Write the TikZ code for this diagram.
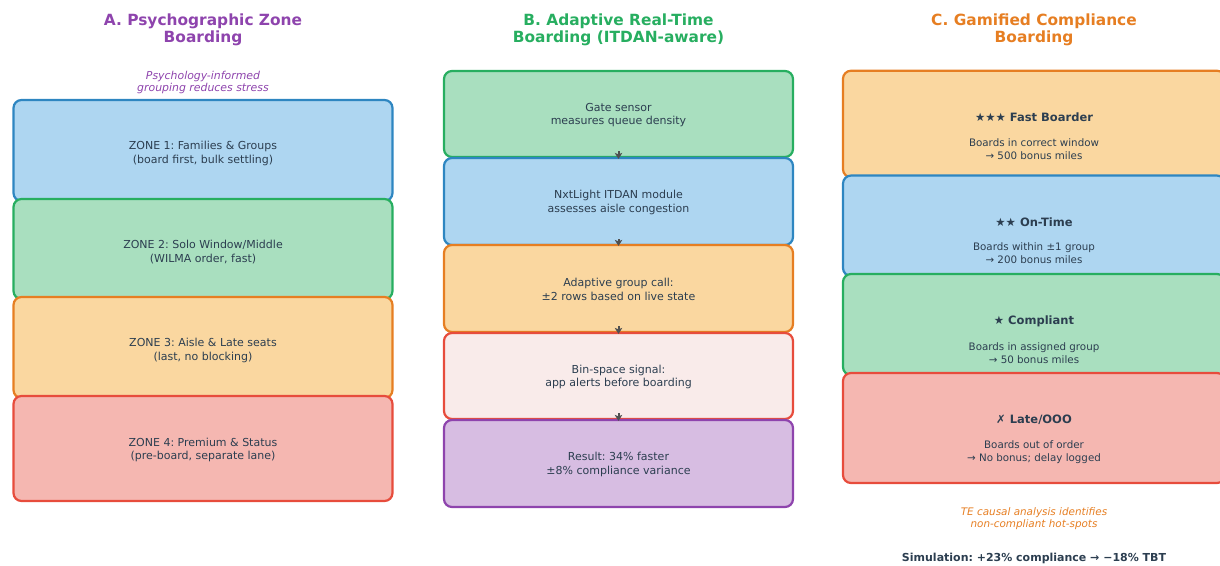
\documentclass[tikz,border=0pt]{standalone}
\usepackage{fontspec}
\setmainfont{DejaVu Sans}
\newfontfamily\symfont{DejaVu Sans}
\usetikzlibrary{arrows.meta}
\frenchspacing

\definecolor{blueE}{HTML}{2E86C1}
\definecolor{blueF}{HTML}{AED6F1}
\definecolor{greenE}{HTML}{27AE60}
\definecolor{greenF}{HTML}{A9DFBF}
\definecolor{orangeE}{HTML}{E67E22}
\definecolor{orangeF}{HTML}{FAD7A0}
\definecolor{redE}{HTML}{E74C3C}
\definecolor{redF}{HTML}{F5B7B1}
\definecolor{purpleE}{HTML}{8E44AD}
\definecolor{purpleF}{HTML}{D7BDE2}
\definecolor{pinkF}{HTML}{F9EBEA}
\definecolor{ink}{HTML}{2C3E50}
\definecolor{flowgray}{HTML}{505050}

\tikzset{
  panel/.style={rounded corners=8pt, line width=2.2pt, inner sep=0pt},
  colA/.style={panel, minimum width=379pt},
  colB/.style={panel, minimum width=349pt},
  colC/.style={panel, minimum width=382pt},
  paneltext/.style={align=center, text=ink, inner sep=0pt,
    font=\fontsize{11}{13.6}\selectfont},
  coltitle/.style={align=center, font=\fontsize{15.4}{17.6}\selectfont\bfseries},
  note/.style={align=center, font=\fontsize{10.4}{11.8}\selectfont\itshape},
  tierhead/.style={text=ink, font=\fontsize{11.5}{13}\selectfont\bfseries},
  tierbody/.style={align=center, text=ink, font=\fontsize{10.3}{13}\selectfont},
  flow/.style={draw=flowgray, line width=2pt, -{Stealth[length=6pt,width=7.5pt,inset=1.5pt]}}
}

\begin{document}
\begin{tikzpicture}[x=1pt,y=-1pt]
\useasboundingbox (0,0) rectangle (1220,565);

% ---------- A: psychographic zones ----------
\node[coltitle, text=purpleE] (ta) at (203,30) {A. Psychographic Zone\\Boarding};
\node[note, text=purpleE, font=\fontsize{10.9}{11.8}\selectfont\itshape] (na) at (203,82.5)
  {Psychology-informed\\grouping reduces stress};
\node[colA, fill=blueF, draw=blueE, minimum height=101pt] (a1) at (203,150.5) {};
\node[colA, fill=greenF, draw=greenE, minimum height=100pt] (a2) at (203,249) {};
\node[colA, fill=orangeF, draw=orangeE, minimum height=101pt] (a3) at (203,347.5) {};
\node[colA, fill=redF, draw=redE, minimum height=105pt] (a4) at (203,448.5) {};
\node[paneltext] (a1t) at ([yshift=-3pt]a1.center) {ZONE 1: Families \& Groups\\(board first, bulk settling)};
\node[paneltext] (a2t) at ([yshift=-3pt]a2.center) {ZONE 2: Solo Window/Middle\\(WILMA order, fast)};
\node[paneltext] (a3t) at ([yshift=-3pt]a3.center) {ZONE 3: Aisle \& Late seats\\(last, no blocking)};
\node[paneltext] (a4t) at ([yshift=-1.5pt]a4.center) {ZONE 4: Premium \& Status\\(pre-board, separate lane)};

% ---------- B: adaptive real-time pipeline ----------
\node[coltitle, text=greenE] (tb) at (618.5,30) {B. Adaptive Real-Time\\Boarding (ITDAN-aware)};
\node[colB, fill=greenF, draw=greenE, minimum height=86pt] (b1) at (618.5,114) {};
\node[colB, fill=blueF, draw=blueE, minimum height=87pt] (b2) at (618.5,201.5) {};
\node[colB, fill=orangeF, draw=orangeE, minimum height=87pt] (b3) at (618.5,288.5) {};
\node[colB, fill=pinkF, draw=redE, minimum height=86pt] (b4) at (618.5,376) {};
\node[colB, fill=purpleF, draw=purpleE, minimum height=87pt] (b5) at (618.5,463.5) {};
\node[paneltext] (b1t) at ([yshift=-1pt]b1.center) {Gate sensor\\measures queue density};
\node[paneltext] (b2t) at ([yshift=-1pt]b2.center) {NxtLight ITDAN module\\assesses aisle congestion};
\node[paneltext] (b3t) at ([yshift=-1pt]b3.center) {Adaptive group call:\\±2 rows based on live state};
\node[paneltext] (b4t) at ([yshift=-1pt]b4.center) {Bin-space signal:\\app alerts before boarding};
\node[paneltext] (b5t) at ([yshift=-1pt]b5.center) {Result: 34\% faster\\±8\% compliance variance};
\foreach \u/\v in {b1/b2, b2/b3, b3/b4, b4/b5}
  \draw[flow] ([yshift=7pt]\u.south) -- ([yshift=-2pt]\v.north);

% ---------- C: gamified compliance tiers ----------
\node[coltitle, text=orangeE] (tc) at (1034,30) {C. Gamified Compliance\\Boarding};
\node[colC, fill=orangeF, draw=orangeE, minimum height=106.5pt] (c1) at (1034,124) {};
\node[colC, fill=blueF, draw=blueE, minimum height=100.5pt] (c2) at (1034,225.8) {};
\node[colC, fill=greenF, draw=greenE, minimum height=101pt] (c3) at (1034,324.5) {};
\node[colC, fill=redF, draw=redE, minimum height=110pt] (c4) at (1034,428) {};

\node[tierhead] (h1) at (1034,117.5) {{\symfont\mdseries ★★★} Fast Boarder};
\node[tierbody] (d1) at (1034,149.5) {Boards in correct window\\→ 500 bonus miles};
\node[tierhead] (h2) at (1034,222.5) {{\symfont\mdseries ★★} On-Time};
\node[tierbody] (d2) at (1034,253.5) {Boards within ±1 group\\→ 200 bonus miles};
\node[tierhead] (h3) at (1034,321.5) {{\symfont\mdseries ★} Compliant};
\node[tierbody] (d3) at (1034,353.5) {Boards in assigned group\\→ 50 bonus miles};
\node[tierhead] (h4) at (1034,420) {{\symfont\mdseries ✗} Late/OOO};
\node[tierbody] (d4) at (1034,452) {Boards out of order\\→ No bonus; delay logged};

\node[note, text=orangeE] (nc) at (1034,518.5) {TE causal analysis identifies\\non-compliant hot-spots};
\node[text=ink, font=\fontsize{11}{13}\selectfont\bfseries] (sim) at (1034,558.5)
  {Simulation: +23\% compliance → −18\% TBT};
\end{tikzpicture}
\end{document}
